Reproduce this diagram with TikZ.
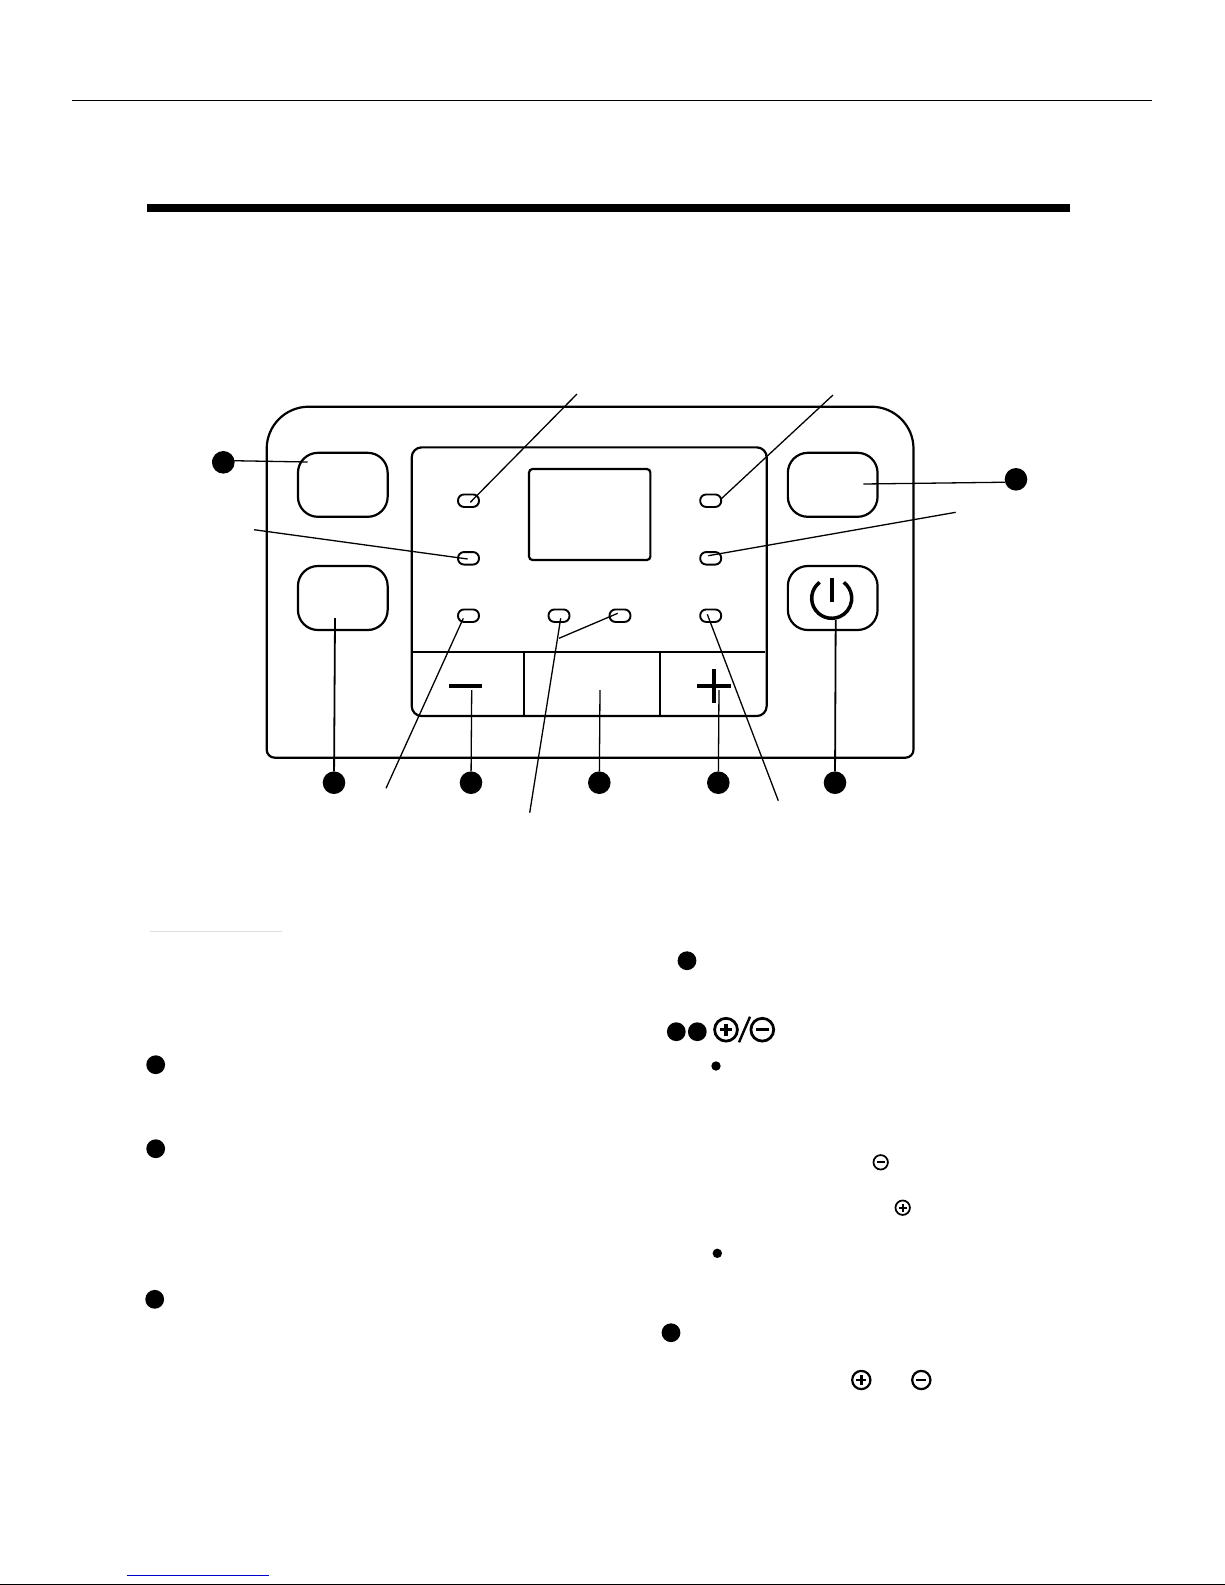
\documentclass[tikz,border=0pt]{standalone}
\tikzset{
  bx/.style={draw=black,line width=2.2pt,rectangle,inner sep=0pt,outer sep=0pt},
  keybtn/.style={bx,rounded corners=20pt,minimum width=89.7pt,minimum height=64pt},
  led/.style={bx,line width=1.9pt,rounded corners=6pt,minimum width=21pt,minimum height=12.5pt},
  dot/.style={circle,fill=black,inner sep=0pt,outer sep=0pt,minimum size=18.8pt},
  bigdot/.style={dot,minimum size=22.6pt},
  smalldot/.style={dot,minimum size=9.4pt},
  lead/.style={draw=black,line width=1.3pt},
  leadb/.style={draw=black,line width=1.8pt},
}
\newcommand{\roundicon}[5]{% name, x, y, radius, plus?
  \node[circle,draw=black,line width=#4*0.23pt,inner sep=0pt,outer sep=0pt,minimum size=#4*1.9pt] (#1) at (#2,#3) {};
  \draw[line width=#4*0.26pt] (#2-#4*0.52,#3) -- (#2+#4*0.52,#3);
  #5
}
\begin{document}
\begin{tikzpicture}[x=1pt,y=-1pt]
\useasboundingbox (0,0) rectangle (1225,1585);
\fill[white] (0,0) rectangle (1225,1585);
% page rules
\coordinate (hrl) at (72,100); \coordinate (hrr) at (1152,100);
\draw[line width=1pt] (hrl) -- (hrr);
\node[fill=black,inner sep=0pt,minimum width=923pt,minimum height=8pt] (bar) at (608,208) {};
\coordinate (grl) at (150,931.3); \coordinate (grr) at (282.3,931.3);
\draw[line width=1pt,color=black!13] (grl) -- (grr);
\coordinate (blul) at (126.7,1575); \coordinate (blur) at (269,1575);
\draw[line width=1pt,color=blue!80!black] (blul) -- (blur);
\coordinate (ftl) at (0,1584); \coordinate (ftr) at (1225,1584);
\draw[line width=1pt] (ftl) -- (ftr);
% outer panel
\draw[line width=2.2pt,rounded corners=42pt] (590,406.7) -- (266.7,406.7) [rounded corners=8pt] -- (266.7,757.7) -- (913.5,757.7) [rounded corners=42pt] -- (913.5,406.7) -- cycle;
% inner panel
\node[bx,rounded corners=10pt,minimum width=355pt,minimum height=268.7pt] (inner) at (589.2,581.7) {};
\coordinate (divl) at (411.7,652); \coordinate (divr) at (765,652);
\draw[line width=2pt] (divl) -- (divr);
\coordinate (v1t) at (523.7,652); \coordinate (v1b) at (523.7,716);
\coordinate (v2t) at (660.3,652); \coordinate (v2b) at (660.3,716);
\draw[line width=2pt] (v1t) -- (v1b);
\draw[line width=2.2pt] (v2t) -- (v2b);
\node[bx,rounded corners=3.5pt,minimum width=121.3pt,minimum height=91pt] (display) at (589.7,514.5) {};
% buttons
\node[keybtn] (btnTL) at (342.8,484.8) {};
\node[keybtn] (btnBL) at (342.8,598) {};
\node[keybtn] (btnTR) at (832.7,484.8) {};
\node[keybtn] (btnBR) at (832.7,598) {};
% LEDs
\node[led] (ledA) at (468.5,500.7) {};
\node[led] (ledB) at (468.5,558.3) {};
\node[led] (ledC) at (468.5,615.7) {};
\node[led] (ledD) at (559,615.7) {};
\node[led] (ledE) at (620,615.7) {};
\node[led] (ledF) at (710.7,500.7) {};
\node[led] (ledG) at (710.7,558.3) {};
\node[led] (ledH) at (710.7,615.7) {};
% minus / plus keys
\node[fill=black,inner sep=0pt,minimum width=33pt,minimum height=4pt] (minuskey) at (465.5,686) {};
\node[fill=black,inner sep=0pt,minimum width=34pt,minimum height=4pt] (pluskeyh) at (714,685.7) {};
\node[fill=black,inner sep=0pt,minimum width=4pt,minimum height=33.7pt] (pluskeyv) at (714,685.8) {};
% power symbol
\coordinate (pwr) at (831.7,598.3);
\draw[line width=3.5pt] (pwr) ++(127:20 and -20) arc[start angle=-127,end angle=-413,x radius=20,y radius=20];
\coordinate (pwrt) at (831.7,578); \coordinate (pwrb) at (831.7,601.7);
\draw[line width=4pt] (pwrt) -- (pwrb);
% numbered dots around the panel
\node[bigdot] (dTL) at (223.3,462.3) {};
\node[bigdot] (dTR) at (1016,479.3) {};
\node[bigdot] (dB1) at (334,782.7) {};
\node[bigdot] (dB2) at (471,782.7) {};
\node[bigdot] (dB3) at (599.3,782.7) {};
\node[bigdot] (dB4) at (718.3,782.7) {};
\node[bigdot] (dB5) at (835,782.7) {};
% connector ends
\coordinate (eA) at (470.3,502.3); \coordinate (fA) at (577,394);
\coordinate (eB) at (467.7,559); \coordinate (fB) at (254,529.7);
\coordinate (eC) at (463.3,618.3); \coordinate (fC) at (386,788.3);
\coordinate (eD) at (560.7,618.3); \coordinate (fD) at (529.7,812.7);
\coordinate (jD) at (559,638.3); \coordinate (eE) at (617.7,613.3);
\coordinate (eF) at (721,499); \coordinate (fF) at (833,395);
\coordinate (eG) at (708.3,555.7); \coordinate (fG) at (955.7,512.3);
\coordinate (eH) at (707.3,614.3); \coordinate (fH) at (778.3,800.7);
\coordinate (eTL) at (307.7,462);
\coordinate (eTR) at (863.3,484);
\coordinate (eB1) at (335,618);
\coordinate (eB2) at (471.7,690);
\coordinate (eB3) at (600,690);
\coordinate (eB4) at (719,690);
\coordinate (eB5) at (835.7,620);
% connectors
\draw[lead] (fA) -- (eA);
\draw[lead] (fB) -- (eB);
\draw[lead] (fC) -- (eC);
\draw[lead] (fD) -- (eD);
\draw[lead] (jD) -- (eE);
\draw[lead] (fF) -- (eF);
\draw[lead] (fG) -- (eG);
\draw[lead] (fH) -- (eH);
\draw[lead] (dTL.170) -- (eTL);
\draw[lead] (dTR.195) -- (eTR);
\draw[leadb] (dB1) -- (eB1);
\draw[lead] (dB2) -- (eB2);
\draw[lead] (dB3) -- (eB3);
\draw[lead] (dB4) -- (eB4);
\draw[leadb] (dB5) -- (eB5);
% text-side bullets
\node[dot] (t1) at (155.7,1064.7) {};
\node[dot] (t2) at (155.7,1148.7) {};
\node[dot] (t3) at (154.7,1299.3) {};
\node[dot] (t4) at (687,960.7) {};
\node[dot] (t5) at (676.3,1031.7) {};
\node[dot] (t6) at (697.3,1031.7) {};
\node[dot] (t7) at (671,1332.7) {};
\node[smalldot] (s1) at (716,1066) {};
\node[smalldot] (s2) at (717.3,1253.3) {};
% plus / minus icons
\roundicon{ip1}{726}{1029.7}{12}{\draw[line width=3.1pt] (726,1023.5) -- (726,1035.9);}
\roundicon{im1}{762.3}{1029.7}{12}{}
\coordinate (sla) at (750,1016.7); \coordinate (slb) at (739,1042.3);
\draw[line width=2.4pt] (sla) -- (slb);
\roundicon{im2}{880.7}{1162.3}{7.6}{}
\roundicon{ip2}{902.7}{1207.7}{7.6}{\draw[line width=2pt] (902.7,1203.8) -- (902.7,1211.6);}
\roundicon{ip3}{861.3}{1380}{9.6}{\draw[line width=2.5pt] (861.3,1375) -- (861.3,1385);}
\roundicon{im3}{921.3}{1380}{9.6}{}
\end{tikzpicture}
\end{document}
